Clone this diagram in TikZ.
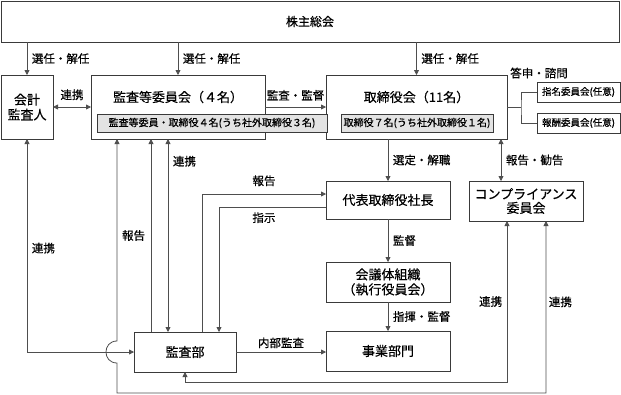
\documentclass[tikz,border=0pt]{standalone}
\usepackage{fontspec}
\setmainfont{Noto Sans CJK JP}[UprightFeatures={FakeBold=0.45}]
\usetikzlibrary{arrows.meta, positioning, calc}
\definecolor{EdgeGray}{HTML}{3A3A3A}
\definecolor{LineGray}{HTML}{4E4E4E}
\definecolor{PanelGray}{HTML}{E3E3E3}
\tikzset{
  orgbox/.style={draw=EdgeGray, line width=0.9pt, fill=white, inner sep=0pt, outer sep=0pt, align=center, font=\fontsize{13}{15}\selectfont},
  subbox/.style={draw=EdgeGray, line width=0.8pt, fill=PanelGray, inner sep=0pt, outer sep=0pt, minimum height=18pt, font=\fontsize{10}{12}\selectfont},
  sidebox/.style={draw=EdgeGray, line width=0.8pt, fill=white, inner sep=0pt, outer sep=0pt, minimum width=83pt, minimum height=20pt, font=\fontsize{9.5}{11}\selectfont},
  boxtitle/.style={inner sep=0pt, font=\fontsize{13}{15}\selectfont},
  lbl/.style={inner sep=2.5pt, font=\fontsize{11.5}{13}\selectfont},
  link/.style={draw=LineGray, line width=0.8pt},
  arrow/.style={link, -{Triangle[length=5pt, width=5pt]}},
  biarrow/.style={link, {Triangle[length=5pt, width=5pt]}-{Triangle[length=5pt, width=5pt]}}
}
\begin{document}
\begin{tikzpicture}[x=1pt, y=-1pt]
\useasboundingbox (0,0) rectangle (621,394);
\node[orgbox, minimum width=618pt, minimum height=41pt, font=\fontsize{12}{14}\selectfont] (soukai) at (310,21.5) {株主総会};
\node[orgbox, minimum width=52pt, minimum height=64pt] (kaikei) at (27,107) {会計\\監査人};
\node[orgbox, minimum width=174pt, minimum height=64pt] (kansa) at (178,107) {};
\node[boxtitle] (kansaT) at (178,97) {監査等委員会（４名）};
\node[orgbox, minimum width=181pt, minimum height=64pt] (board) at (416.5,107) {};
\node[boxtitle] (boardT) at (416.5,97) {取締役会（11名）};
\node[subbox, minimum width=230pt] (kansaSub) at (212,123) {監査等委員・取締役４名(うち社外取締役３名)};
\node[subbox, minimum width=152pt] (boardSub) at (417,123) {取締役７名(うち社外取締役１名)};
\node[sidebox] (shimei) at (578.5,92) {指名委員会(任意)};
\node[sidebox] (houshu) at (578.5,123) {報酬委員会(任意)};
\node[lbl] (toshin) at (539,73) {答申・諮問};
\node[orgbox, minimum width=124pt, minimum height=38pt] (ceo) at (388,200) {代表取締役社長};
\node[orgbox, minimum width=124pt, minimum height=40pt] (kaigi) at (388,282) {会議体組織\\（執行役員会）};
\node[orgbox, minimum width=124pt, minimum height=40pt] (jigyo) at (388,351) {事業部門};
\node[orgbox, minimum width=114pt, minimum height=40pt, font=\fontsize{13}{14}\selectfont] (comp) at (526,201) {コンプライアンス\\委員会};
\node[orgbox, minimum width=102pt, minimum height=40pt] (naibu) at (185,352) {監査部};

\coordinate (kaA) at ($(kansa.south west)+(26,0)$);
\coordinate (kaB) at ($(kansa.south west)+(60,0)$);
\coordinate (kaC) at ($(kansa.south west)+(77,0)$);
\coordinate (buA) at ($(naibu.north west)+(68,0)$);
\coordinate (buB) at ($(naibu.north west)+(85,0)$);
\coordinate (ceoA) at ($(ceo.west)+(0,-6)$);
\coordinate (ceoB) at ($(ceo.west)+(0,7)$);
\coordinate (coA) at ($(comp.south west)+(38,0)$);
\coordinate (coB) at ($(comp.south west)+(77,0)$);
\coordinate (coT) at ($(comp.north west)+(32,0)$);
\coordinate (railA) at ($(naibu.south)+(0,10)$);
\coordinate (railB) at ($(naibu.south)+(0,21)$);
\coordinate (hop) at (kaA |- naibu.west);

\draw[arrow] (soukai.south -| kaikei) -- node[lbl, right=2pt] {選任・解任} (kaikei.north);
\draw[arrow] (soukai.south -| kansa) -- node[lbl, right=2pt] {選任・解任} (kansa.north);
\draw[arrow] (soukai.south -| board) -- node[lbl, right=2pt] {選任・解任} (board.north);
\draw[biarrow] (kaikei.east) -- node[lbl, above=4pt] {連携} (kaikei.east -| kansa.west);
\draw[arrow] (kansa.east) -- node[lbl, above=3.5pt] {監査・監督} (board.west);
\draw[link] (board.east) -- ++(14,0) coordinate (fork);
\draw[link] (shimei.west) -| (fork) |- (houshu.west);
\draw[arrow] (board.south -| ceo) -- node[lbl, right=2pt] {選定・解職} (ceo.north);
\draw[biarrow] (board.south -| coT) -- node[lbl, right=2pt] {報告・勧告} (coT);
\draw[arrow] (ceo.south) -- node[lbl, right=2pt] {監督} (kaigi.north);
\draw[arrow] (kaigi.south) -- node[lbl, right=2pt] {指揮・監督} (jigyo.north);
\draw[arrow] (naibu.east) -- node[lbl, above=1pt] {内部監査} (naibu.east -| jigyo.west);
\draw[arrow] (buA) |- node[lbl, above=5pt, pos=0.75] {報告} (ceoA);
\draw[arrow] (ceoB) -| node[lbl, below=2.5pt, pos=0.29] {指示} (buB);
\draw[arrow] (naibu.north -| kaB) -- node[lbl, left=3pt] {報告} (kaB);
\draw[biarrow] (kaC) -- node[lbl, right=2pt, pos=0.115] {連携} (naibu.north -| kaC);
\draw[biarrow] (kaikei.south) |- node[lbl, right=2pt, pos=0.256] {連携} (naibu.west);
\draw[biarrow] (naibu.south) -- (railA) -| node[lbl, left=2pt, pos=0.75] {連携} (coA);
\draw[biarrow] (kaA) -- ($(hop)+(0,-11)$) .. controls ($(hop)+(-14.7,-11)$) and ($(hop)+(-14.7,11)$) .. ($(hop)+(0,11)$) -- (kaA |- railB) -| node[lbl, right, pos=0.765] {連携} (coB);
\end{tikzpicture}
\end{document}
